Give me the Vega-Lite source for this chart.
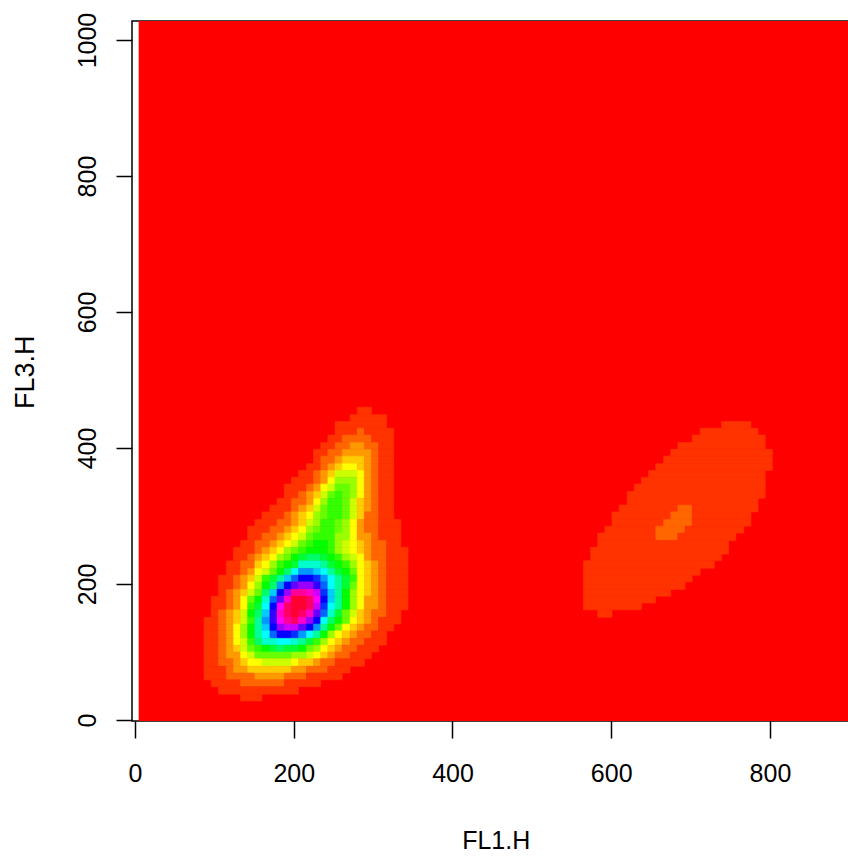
{
"$schema":"https://vega.github.io/schema/vega-lite/v6.json",
"autosize":{"type":"none"},
"padding":{"left":132,"top":21,"right":0,"bottom":135},
"width":716,"height":700,
"background":"white",
"view":{"stroke":"black","strokeWidth":1.5,"fill":"white"},
"data":{"values":[
{"x":5,"x2":900,"y":-1.5,"y2":1028,"v":0},
{"x":280,"x2":298,"y":449,"y2":460,"v":1},
{"x":271,"x2":317,"y":439,"y2":449,"v":1},
{"x":252,"x2":317,"y":429,"y2":439,"v":1},
{"x":252,"x2":280,"y":419,"y2":429,"v":1},{"x":280,"x2":289,"y":419,"y2":429,"v":2},{"x":289,"x2":326,"y":419,"y2":429,"v":1},
{"x":243,"x2":261,"y":408,"y2":419,"v":1},{"x":261,"x2":298,"y":408,"y2":419,"v":2},{"x":298,"x2":326,"y":408,"y2":419,"v":1},
{"x":234,"x2":252,"y":398,"y2":408,"v":1},{"x":252,"x2":271,"y":398,"y2":408,"v":2},{"x":271,"x2":289,"y":398,"y2":408,"v":3},{"x":289,"x2":307,"y":398,"y2":408,"v":2},{"x":307,"x2":326,"y":398,"y2":408,"v":1},
{"x":225,"x2":243,"y":388,"y2":398,"v":1},{"x":243,"x2":261,"y":388,"y2":398,"v":2},{"x":261,"x2":298,"y":388,"y2":398,"v":3},{"x":298,"x2":307,"y":388,"y2":398,"v":2},{"x":307,"x2":326,"y":388,"y2":398,"v":1},
{"x":225,"x2":234,"y":377,"y2":388,"v":1},{"x":234,"x2":252,"y":377,"y2":388,"v":2},{"x":252,"x2":261,"y":377,"y2":388,"v":3},{"x":261,"x2":289,"y":377,"y2":388,"v":4},{"x":289,"x2":298,"y":377,"y2":388,"v":3},{"x":298,"x2":307,"y":377,"y2":388,"v":2},{"x":307,"x2":326,"y":377,"y2":388,"v":1},
{"x":216,"x2":234,"y":367,"y2":377,"v":1},{"x":234,"x2":243,"y":367,"y2":377,"v":2},{"x":243,"x2":252,"y":367,"y2":377,"v":3},{"x":252,"x2":261,"y":367,"y2":377,"v":4},{"x":261,"x2":280,"y":367,"y2":377,"v":5},{"x":280,"x2":289,"y":367,"y2":377,"v":4},{"x":289,"x2":298,"y":367,"y2":377,"v":3},{"x":298,"x2":307,"y":367,"y2":377,"v":2},{"x":307,"x2":326,"y":367,"y2":377,"v":1},
{"x":206,"x2":225,"y":357,"y2":367,"v":1},{"x":225,"x2":234,"y":357,"y2":367,"v":2},{"x":234,"x2":243,"y":357,"y2":367,"v":3},{"x":243,"x2":252,"y":357,"y2":367,"v":4},{"x":252,"x2":280,"y":357,"y2":367,"v":6},{"x":280,"x2":289,"y":357,"y2":367,"v":5},{"x":289,"x2":298,"y":357,"y2":367,"v":3},{"x":298,"x2":307,"y":357,"y2":367,"v":2},{"x":307,"x2":326,"y":357,"y2":367,"v":1},
{"x":197,"x2":225,"y":347,"y2":357,"v":1},{"x":225,"x2":234,"y":347,"y2":357,"v":2},{"x":234,"x2":243,"y":347,"y2":357,"v":3},{"x":243,"x2":252,"y":347,"y2":357,"v":5},{"x":252,"x2":280,"y":347,"y2":357,"v":7},{"x":280,"x2":289,"y":347,"y2":357,"v":5},{"x":289,"x2":298,"y":347,"y2":357,"v":3},{"x":298,"x2":307,"y":347,"y2":357,"v":2},{"x":307,"x2":326,"y":347,"y2":357,"v":1},
{"x":188,"x2":216,"y":336,"y2":347,"v":1},{"x":216,"x2":225,"y":336,"y2":347,"v":2},{"x":225,"x2":234,"y":336,"y2":347,"v":3},{"x":234,"x2":243,"y":336,"y2":347,"v":5},{"x":243,"x2":252,"y":336,"y2":347,"v":6},{"x":252,"x2":271,"y":336,"y2":347,"v":8},{"x":271,"x2":280,"y":336,"y2":347,"v":7},{"x":280,"x2":289,"y":336,"y2":347,"v":5},{"x":289,"x2":298,"y":336,"y2":347,"v":3},{"x":298,"x2":307,"y":336,"y2":347,"v":2},{"x":307,"x2":326,"y":336,"y2":347,"v":1},
{"x":188,"x2":206,"y":326,"y2":336,"v":1},{"x":206,"x2":216,"y":326,"y2":336,"v":2},{"x":216,"x2":225,"y":326,"y2":336,"v":3},{"x":225,"x2":234,"y":326,"y2":336,"v":4},{"x":234,"x2":243,"y":326,"y2":336,"v":6},{"x":243,"x2":252,"y":326,"y2":336,"v":8},{"x":252,"x2":261,"y":326,"y2":336,"v":9},{"x":261,"x2":271,"y":326,"y2":336,"v":8},{"x":271,"x2":280,"y":326,"y2":336,"v":7},{"x":280,"x2":289,"y":326,"y2":336,"v":5},{"x":289,"x2":298,"y":326,"y2":336,"v":3},{"x":298,"x2":307,"y":326,"y2":336,"v":2},{"x":307,"x2":326,"y":326,"y2":336,"v":1},
{"x":179,"x2":197,"y":316,"y2":326,"v":1},{"x":197,"x2":216,"y":316,"y2":326,"v":2},{"x":216,"x2":225,"y":316,"y2":326,"v":3},{"x":225,"x2":234,"y":316,"y2":326,"v":5},{"x":234,"x2":243,"y":316,"y2":326,"v":7},{"x":243,"x2":261,"y":316,"y2":326,"v":9},{"x":261,"x2":271,"y":316,"y2":326,"v":8},{"x":271,"x2":280,"y":316,"y2":326,"v":6},{"x":280,"x2":289,"y":316,"y2":326,"v":4},{"x":289,"x2":298,"y":316,"y2":326,"v":3},{"x":298,"x2":307,"y":316,"y2":326,"v":2},{"x":307,"x2":326,"y":316,"y2":326,"v":1},
{"x":170,"x2":197,"y":306,"y2":316,"v":1},{"x":197,"x2":206,"y":306,"y2":316,"v":2},{"x":206,"x2":216,"y":306,"y2":316,"v":3},{"x":216,"x2":225,"y":306,"y2":316,"v":4},{"x":225,"x2":234,"y":306,"y2":316,"v":6},{"x":234,"x2":243,"y":306,"y2":316,"v":8},{"x":243,"x2":261,"y":306,"y2":316,"v":9},{"x":261,"x2":271,"y":306,"y2":316,"v":8},{"x":271,"x2":280,"y":306,"y2":316,"v":6},{"x":280,"x2":289,"y":306,"y2":316,"v":4},{"x":289,"x2":298,"y":306,"y2":316,"v":3},{"x":298,"x2":307,"y":306,"y2":316,"v":2},{"x":307,"x2":326,"y":306,"y2":316,"v":1},
{"x":160,"x2":188,"y":295,"y2":306,"v":1},{"x":188,"x2":197,"y":295,"y2":306,"v":2},{"x":197,"x2":206,"y":295,"y2":306,"v":3},{"x":206,"x2":216,"y":295,"y2":306,"v":4},{"x":216,"x2":225,"y":295,"y2":306,"v":5},{"x":225,"x2":234,"y":295,"y2":306,"v":7},{"x":234,"x2":243,"y":295,"y2":306,"v":8},{"x":243,"x2":261,"y":295,"y2":306,"v":9},{"x":261,"x2":271,"y":295,"y2":306,"v":8},{"x":271,"x2":280,"y":295,"y2":306,"v":6},{"x":280,"x2":289,"y":295,"y2":306,"v":4},{"x":289,"x2":307,"y":295,"y2":306,"v":2},{"x":307,"x2":326,"y":295,"y2":306,"v":1},
{"x":151,"x2":179,"y":285,"y2":295,"v":1},{"x":179,"x2":197,"y":285,"y2":295,"v":2},{"x":197,"x2":206,"y":285,"y2":295,"v":3},{"x":206,"x2":216,"y":285,"y2":295,"v":4},{"x":216,"x2":225,"y":285,"y2":295,"v":6},{"x":225,"x2":234,"y":285,"y2":295,"v":7},{"x":234,"x2":252,"y":285,"y2":295,"v":9},{"x":252,"x2":261,"y":285,"y2":295,"v":8},{"x":261,"x2":271,"y":285,"y2":295,"v":7},{"x":271,"x2":280,"y":285,"y2":295,"v":5},{"x":280,"x2":289,"y":285,"y2":295,"v":3},{"x":289,"x2":307,"y":285,"y2":295,"v":2},{"x":307,"x2":335,"y":285,"y2":295,"v":1},
{"x":142,"x2":170,"y":275,"y2":285,"v":1},{"x":170,"x2":188,"y":275,"y2":285,"v":2},{"x":188,"x2":197,"y":275,"y2":285,"v":3},{"x":197,"x2":206,"y":275,"y2":285,"v":4},{"x":206,"x2":216,"y":275,"y2":285,"v":5},{"x":216,"x2":225,"y":275,"y2":285,"v":7},{"x":225,"x2":234,"y":275,"y2":285,"v":8},{"x":234,"x2":252,"y":275,"y2":285,"v":9},{"x":252,"x2":261,"y":275,"y2":285,"v":8},{"x":261,"x2":271,"y":275,"y2":285,"v":7},{"x":271,"x2":280,"y":275,"y2":285,"v":5},{"x":280,"x2":289,"y":275,"y2":285,"v":3},{"x":289,"x2":307,"y":275,"y2":285,"v":2},{"x":307,"x2":335,"y":275,"y2":285,"v":1},
{"x":142,"x2":160,"y":264,"y2":275,"v":1},{"x":160,"x2":179,"y":264,"y2":275,"v":2},{"x":179,"x2":188,"y":264,"y2":275,"v":3},{"x":188,"x2":197,"y":264,"y2":275,"v":4},{"x":197,"x2":206,"y":264,"y2":275,"v":5},{"x":206,"x2":216,"y":264,"y2":275,"v":6},{"x":216,"x2":225,"y":264,"y2":275,"v":8},{"x":225,"x2":252,"y":264,"y2":275,"v":9},{"x":252,"x2":271,"y":264,"y2":275,"v":7},{"x":271,"x2":280,"y":264,"y2":275,"v":5},{"x":280,"x2":298,"y":264,"y2":275,"v":3},{"x":298,"x2":307,"y":264,"y2":275,"v":2},{"x":307,"x2":335,"y":264,"y2":275,"v":1},
{"x":133,"x2":151,"y":254,"y2":264,"v":1},{"x":151,"x2":170,"y":254,"y2":264,"v":2},{"x":170,"x2":179,"y":254,"y2":264,"v":3},{"x":179,"x2":188,"y":254,"y2":264,"v":4},{"x":188,"x2":197,"y":254,"y2":264,"v":5},{"x":197,"x2":206,"y":254,"y2":264,"v":6},{"x":206,"x2":216,"y":254,"y2":264,"v":8},{"x":216,"x2":225,"y":254,"y2":264,"v":9},{"x":225,"x2":243,"y":254,"y2":264,"v":10},{"x":243,"x2":252,"y":254,"y2":264,"v":9},{"x":252,"x2":261,"y":254,"y2":264,"v":7},{"x":261,"x2":271,"y":254,"y2":264,"v":6},{"x":271,"x2":280,"y":254,"y2":264,"v":5},{"x":280,"x2":289,"y":254,"y2":264,"v":4},{"x":289,"x2":298,"y":254,"y2":264,"v":3},{"x":298,"x2":317,"y":254,"y2":264,"v":2},{"x":317,"x2":335,"y":254,"y2":264,"v":1},
{"x":124,"x2":151,"y":244,"y2":254,"v":1},{"x":151,"x2":160,"y":244,"y2":254,"v":2},{"x":160,"x2":170,"y":244,"y2":254,"v":3},{"x":170,"x2":179,"y":244,"y2":254,"v":4},{"x":179,"x2":188,"y":244,"y2":254,"v":5},{"x":188,"x2":197,"y":244,"y2":254,"v":7},{"x":197,"x2":206,"y":244,"y2":254,"v":8},{"x":206,"x2":216,"y":244,"y2":254,"v":9},{"x":216,"x2":243,"y":244,"y2":254,"v":10},{"x":243,"x2":252,"y":244,"y2":254,"v":9},{"x":252,"x2":261,"y":244,"y2":254,"v":7},{"x":261,"x2":271,"y":244,"y2":254,"v":6},{"x":271,"x2":280,"y":244,"y2":254,"v":5},{"x":280,"x2":289,"y":244,"y2":254,"v":4},{"x":289,"x2":298,"y":244,"y2":254,"v":3},{"x":298,"x2":317,"y":244,"y2":254,"v":2},{"x":317,"x2":344,"y":244,"y2":254,"v":1},
{"x":124,"x2":142,"y":234,"y2":244,"v":1},{"x":142,"x2":151,"y":234,"y2":244,"v":2},{"x":151,"x2":160,"y":234,"y2":244,"v":3},{"x":160,"x2":170,"y":234,"y2":244,"v":4},{"x":170,"x2":179,"y":234,"y2":244,"v":5},{"x":179,"x2":188,"y":234,"y2":244,"v":7},{"x":188,"x2":197,"y":234,"y2":244,"v":8},{"x":197,"x2":206,"y":234,"y2":244,"v":10},{"x":206,"x2":216,"y":234,"y2":244,"v":11},{"x":216,"x2":234,"y":234,"y2":244,"v":12},{"x":234,"x2":243,"y":234,"y2":244,"v":11},{"x":243,"x2":252,"y":234,"y2":244,"v":10},{"x":252,"x2":261,"y":234,"y2":244,"v":9},{"x":261,"x2":271,"y":234,"y2":244,"v":7},{"x":271,"x2":280,"y":234,"y2":244,"v":6},{"x":280,"x2":289,"y":234,"y2":244,"v":5},{"x":289,"x2":298,"y":234,"y2":244,"v":3},{"x":298,"x2":317,"y":234,"y2":244,"v":2},{"x":317,"x2":344,"y":234,"y2":244,"v":1},
{"x":115,"x2":133,"y":223,"y2":234,"v":1},{"x":133,"x2":151,"y":223,"y2":234,"v":2},{"x":151,"x2":160,"y":223,"y2":234,"v":4},{"x":160,"x2":170,"y":223,"y2":234,"v":5},{"x":170,"x2":179,"y":223,"y2":234,"v":7},{"x":179,"x2":188,"y":223,"y2":234,"v":9},{"x":188,"x2":197,"y":223,"y2":234,"v":10},{"x":197,"x2":206,"y":223,"y2":234,"v":11},{"x":206,"x2":234,"y":223,"y2":234,"v":14},{"x":234,"x2":243,"y":223,"y2":234,"v":13},{"x":243,"x2":252,"y":223,"y2":234,"v":11},{"x":252,"x2":261,"y":223,"y2":234,"v":10},{"x":261,"x2":271,"y":223,"y2":234,"v":9},{"x":271,"x2":280,"y":223,"y2":234,"v":7},{"x":280,"x2":289,"y":223,"y2":234,"v":5},{"x":289,"x2":298,"y":223,"y2":234,"v":4},{"x":298,"x2":307,"y":223,"y2":234,"v":3},{"x":307,"x2":317,"y":223,"y2":234,"v":2},{"x":317,"x2":344,"y":223,"y2":234,"v":1},
{"x":115,"x2":133,"y":213,"y2":223,"v":1},{"x":133,"x2":142,"y":213,"y2":223,"v":2},{"x":142,"x2":151,"y":213,"y2":223,"v":3},{"x":151,"x2":160,"y":213,"y2":223,"v":5},{"x":160,"x2":170,"y":213,"y2":223,"v":6},{"x":170,"x2":179,"y":213,"y2":223,"v":8},{"x":179,"x2":188,"y":213,"y2":223,"v":10},{"x":188,"x2":197,"y":213,"y2":223,"v":12},{"x":197,"x2":206,"y":213,"y2":223,"v":15},{"x":206,"x2":225,"y":213,"y2":223,"v":17},{"x":225,"x2":234,"y":213,"y2":223,"v":16},{"x":234,"x2":243,"y":213,"y2":223,"v":15},{"x":243,"x2":252,"y":213,"y2":223,"v":13},{"x":252,"x2":261,"y":213,"y2":223,"v":11},{"x":261,"x2":271,"y":213,"y2":223,"v":10},{"x":271,"x2":280,"y":213,"y2":223,"v":8},{"x":280,"x2":289,"y":213,"y2":223,"v":5},{"x":289,"x2":298,"y":213,"y2":223,"v":4},{"x":298,"x2":307,"y":213,"y2":223,"v":3},{"x":307,"x2":317,"y":213,"y2":223,"v":2},{"x":317,"x2":344,"y":213,"y2":223,"v":1},
{"x":105,"x2":124,"y":203,"y2":213,"v":1},{"x":124,"x2":133,"y":203,"y2":213,"v":2},{"x":133,"x2":142,"y":203,"y2":213,"v":3},{"x":142,"x2":151,"y":203,"y2":213,"v":4},{"x":151,"x2":160,"y":203,"y2":213,"v":6},{"x":160,"x2":170,"y":203,"y2":213,"v":9},{"x":170,"x2":179,"y":203,"y2":213,"v":11},{"x":179,"x2":188,"y":203,"y2":213,"v":13},{"x":188,"x2":197,"y":203,"y2":213,"v":16},{"x":197,"x2":206,"y":203,"y2":213,"v":18},{"x":206,"x2":225,"y":203,"y2":213,"v":20},{"x":225,"x2":234,"y":203,"y2":213,"v":19},{"x":234,"x2":243,"y":203,"y2":213,"v":17},{"x":243,"x2":252,"y":203,"y2":213,"v":15},{"x":252,"x2":261,"y":203,"y2":213,"v":13},{"x":261,"x2":271,"y":203,"y2":213,"v":11},{"x":271,"x2":280,"y":203,"y2":213,"v":9},{"x":280,"x2":289,"y":203,"y2":213,"v":5},{"x":289,"x2":298,"y":203,"y2":213,"v":4},{"x":298,"x2":307,"y":203,"y2":213,"v":3},{"x":307,"x2":317,"y":203,"y2":213,"v":2},{"x":317,"x2":344,"y":203,"y2":213,"v":1},
{"x":105,"x2":124,"y":192,"y2":203,"v":1},{"x":124,"x2":133,"y":192,"y2":203,"v":2},{"x":133,"x2":142,"y":192,"y2":203,"v":3},{"x":142,"x2":151,"y":192,"y2":203,"v":5},{"x":151,"x2":160,"y":192,"y2":203,"v":7},{"x":160,"x2":170,"y":192,"y2":203,"v":10},{"x":170,"x2":179,"y":192,"y2":203,"v":12},{"x":179,"x2":188,"y":192,"y2":203,"v":17},{"x":188,"x2":197,"y":192,"y2":203,"v":20},{"x":197,"x2":206,"y":192,"y2":203,"v":22},{"x":206,"x2":225,"y":192,"y2":203,"v":23},{"x":225,"x2":234,"y":192,"y2":203,"v":21},{"x":234,"x2":243,"y":192,"y2":203,"v":18},{"x":243,"x2":252,"y":192,"y2":203,"v":15},{"x":252,"x2":261,"y":192,"y2":203,"v":13},{"x":261,"x2":271,"y":192,"y2":203,"v":11},{"x":271,"x2":280,"y":192,"y2":203,"v":8},{"x":280,"x2":289,"y":192,"y2":203,"v":5},{"x":289,"x2":298,"y":192,"y2":203,"v":4},{"x":298,"x2":307,"y":192,"y2":203,"v":3},{"x":307,"x2":317,"y":192,"y2":203,"v":2},{"x":317,"x2":344,"y":192,"y2":203,"v":1},
{"x":105,"x2":115,"y":182,"y2":192,"v":1},{"x":115,"x2":124,"y":182,"y2":192,"v":2},{"x":124,"x2":133,"y":182,"y2":192,"v":3},{"x":133,"x2":142,"y":182,"y2":192,"v":4},{"x":142,"x2":151,"y":182,"y2":192,"v":6},{"x":151,"x2":160,"y":182,"y2":192,"v":8},{"x":160,"x2":170,"y":182,"y2":192,"v":12},{"x":170,"x2":179,"y":182,"y2":192,"v":16},{"x":179,"x2":188,"y":182,"y2":192,"v":20},{"x":188,"x2":197,"y":182,"y2":192,"v":23},{"x":197,"x2":216,"y":182,"y2":192,"v":27},{"x":216,"x2":225,"y":182,"y2":192,"v":26},{"x":225,"x2":234,"y":182,"y2":192,"v":24},{"x":234,"x2":243,"y":182,"y2":192,"v":19},{"x":243,"x2":252,"y":182,"y2":192,"v":16},{"x":252,"x2":261,"y":182,"y2":192,"v":13},{"x":261,"x2":271,"y":182,"y2":192,"v":10},{"x":271,"x2":280,"y":182,"y2":192,"v":7},{"x":280,"x2":289,"y":182,"y2":192,"v":5},{"x":289,"x2":298,"y":182,"y2":192,"v":4},{"x":298,"x2":307,"y":182,"y2":192,"v":3},{"x":307,"x2":317,"y":182,"y2":192,"v":2},{"x":317,"x2":344,"y":182,"y2":192,"v":1},
{"x":96,"x2":115,"y":172,"y2":182,"v":1},{"x":115,"x2":124,"y":172,"y2":182,"v":2},{"x":124,"x2":133,"y":172,"y2":182,"v":3},{"x":133,"x2":142,"y":172,"y2":182,"v":5},{"x":142,"x2":151,"y":172,"y2":182,"v":8},{"x":151,"x2":160,"y":172,"y2":182,"v":10},{"x":160,"x2":170,"y":172,"y2":182,"v":14},{"x":170,"x2":179,"y":172,"y2":182,"v":18},{"x":179,"x2":188,"y":172,"y2":182,"v":22},{"x":188,"x2":197,"y":172,"y2":182,"v":26},{"x":197,"x2":216,"y":172,"y2":182,"v":29},{"x":216,"x2":225,"y":172,"y2":182,"v":28},{"x":225,"x2":234,"y":172,"y2":182,"v":25},{"x":234,"x2":243,"y":172,"y2":182,"v":20},{"x":243,"x2":252,"y":172,"y2":182,"v":16},{"x":252,"x2":261,"y":172,"y2":182,"v":13},{"x":261,"x2":271,"y":172,"y2":182,"v":10},{"x":271,"x2":280,"y":172,"y2":182,"v":7},{"x":280,"x2":289,"y":172,"y2":182,"v":5},{"x":289,"x2":307,"y":172,"y2":182,"v":3},{"x":307,"x2":317,"y":172,"y2":182,"v":2},{"x":317,"x2":344,"y":172,"y2":182,"v":1},
{"x":96,"x2":115,"y":162,"y2":172,"v":1},{"x":115,"x2":124,"y":162,"y2":172,"v":2},{"x":124,"x2":133,"y":162,"y2":172,"v":3},{"x":133,"x2":142,"y":162,"y2":172,"v":5},{"x":142,"x2":151,"y":162,"y2":172,"v":9},{"x":151,"x2":160,"y":162,"y2":172,"v":11},{"x":160,"x2":170,"y":162,"y2":172,"v":15},{"x":170,"x2":179,"y":162,"y2":172,"v":20},{"x":179,"x2":188,"y":162,"y2":172,"v":25},{"x":188,"x2":197,"y":162,"y2":172,"v":28},{"x":197,"x2":216,"y":162,"y2":172,"v":29},{"x":216,"x2":225,"y":162,"y2":172,"v":28},{"x":225,"x2":234,"y":162,"y2":172,"v":24},{"x":234,"x2":243,"y":162,"y2":172,"v":19},{"x":243,"x2":252,"y":162,"y2":172,"v":15},{"x":252,"x2":261,"y":162,"y2":172,"v":13},{"x":261,"x2":271,"y":162,"y2":172,"v":10},{"x":271,"x2":280,"y":162,"y2":172,"v":7},{"x":280,"x2":289,"y":162,"y2":172,"v":5},{"x":289,"x2":307,"y":162,"y2":172,"v":3},{"x":307,"x2":317,"y":162,"y2":172,"v":2},{"x":317,"x2":344,"y":162,"y2":172,"v":1},
{"x":96,"x2":105,"y":151,"y2":162,"v":1},{"x":105,"x2":115,"y":151,"y2":162,"v":2},{"x":115,"x2":124,"y":151,"y2":162,"v":3},{"x":124,"x2":133,"y":151,"y2":162,"v":4},{"x":133,"x2":142,"y":151,"y2":162,"v":6},{"x":142,"x2":151,"y":151,"y2":162,"v":10},{"x":151,"x2":160,"y":151,"y2":162,"v":12},{"x":160,"x2":170,"y":151,"y2":162,"v":16},{"x":170,"x2":179,"y":151,"y2":162,"v":21},{"x":179,"x2":188,"y":151,"y2":162,"v":26},{"x":188,"x2":197,"y":151,"y2":162,"v":28},{"x":197,"x2":206,"y":151,"y2":162,"v":29},{"x":206,"x2":216,"y":151,"y2":162,"v":28},{"x":216,"x2":225,"y":151,"y2":162,"v":26},{"x":225,"x2":234,"y":151,"y2":162,"v":22},{"x":234,"x2":243,"y":151,"y2":162,"v":18},{"x":243,"x2":252,"y":151,"y2":162,"v":14},{"x":252,"x2":261,"y":151,"y2":162,"v":11},{"x":261,"x2":271,"y":151,"y2":162,"v":8},{"x":271,"x2":280,"y":151,"y2":162,"v":6},{"x":280,"x2":289,"y":151,"y2":162,"v":4},{"x":289,"x2":298,"y":151,"y2":162,"v":3},{"x":298,"x2":317,"y":151,"y2":162,"v":2},{"x":317,"x2":335,"y":151,"y2":162,"v":1},
{"x":87,"x2":105,"y":141,"y2":151,"v":1},{"x":105,"x2":115,"y":141,"y2":151,"v":2},{"x":115,"x2":124,"y":141,"y2":151,"v":3},{"x":124,"x2":133,"y":141,"y2":151,"v":4},{"x":133,"x2":142,"y":141,"y2":151,"v":6},{"x":142,"x2":151,"y":141,"y2":151,"v":9},{"x":151,"x2":160,"y":141,"y2":151,"v":13},{"x":160,"x2":170,"y":141,"y2":151,"v":17},{"x":170,"x2":179,"y":141,"y2":151,"v":21},{"x":179,"x2":188,"y":141,"y2":151,"v":25},{"x":188,"x2":197,"y":141,"y2":151,"v":27},{"x":197,"x2":206,"y":141,"y2":151,"v":28},{"x":206,"x2":216,"y":141,"y2":151,"v":26},{"x":216,"x2":225,"y":141,"y2":151,"v":23},{"x":225,"x2":234,"y":141,"y2":151,"v":20},{"x":234,"x2":243,"y":141,"y2":151,"v":15},{"x":243,"x2":252,"y":141,"y2":151,"v":12},{"x":252,"x2":261,"y":141,"y2":151,"v":10},{"x":261,"x2":271,"y":141,"y2":151,"v":8},{"x":271,"x2":280,"y":141,"y2":151,"v":5},{"x":280,"x2":289,"y":141,"y2":151,"v":4},{"x":289,"x2":298,"y":141,"y2":151,"v":3},{"x":298,"x2":307,"y":141,"y2":151,"v":2},{"x":307,"x2":335,"y":141,"y2":151,"v":1},
{"x":87,"x2":105,"y":131,"y2":141,"v":1},{"x":105,"x2":115,"y":131,"y2":141,"v":2},{"x":115,"x2":124,"y":131,"y2":141,"v":3},{"x":124,"x2":133,"y":131,"y2":141,"v":5},{"x":133,"x2":142,"y":131,"y2":141,"v":7},{"x":142,"x2":151,"y":131,"y2":141,"v":10},{"x":151,"x2":160,"y":131,"y2":141,"v":13},{"x":160,"x2":170,"y":131,"y2":141,"v":16},{"x":170,"x2":179,"y":131,"y2":141,"v":20},{"x":179,"x2":188,"y":131,"y2":141,"v":23},{"x":188,"x2":206,"y":131,"y2":141,"v":24},{"x":206,"x2":216,"y":131,"y2":141,"v":22},{"x":216,"x2":225,"y":131,"y2":141,"v":20},{"x":225,"x2":234,"y":131,"y2":141,"v":17},{"x":234,"x2":243,"y":131,"y2":141,"v":13},{"x":243,"x2":252,"y":131,"y2":141,"v":10},{"x":252,"x2":261,"y":131,"y2":141,"v":8},{"x":261,"x2":271,"y":131,"y2":141,"v":5},{"x":271,"x2":280,"y":131,"y2":141,"v":4},{"x":280,"x2":289,"y":131,"y2":141,"v":3},{"x":289,"x2":307,"y":131,"y2":141,"v":2},{"x":307,"x2":326,"y":131,"y2":141,"v":1},
{"x":87,"x2":105,"y":120,"y2":131,"v":1},{"x":105,"x2":115,"y":120,"y2":131,"v":2},{"x":115,"x2":124,"y":120,"y2":131,"v":3},{"x":124,"x2":133,"y":120,"y2":131,"v":5},{"x":133,"x2":142,"y":120,"y2":131,"v":7},{"x":142,"x2":151,"y":120,"y2":131,"v":10},{"x":151,"x2":160,"y":120,"y2":131,"v":13},{"x":160,"x2":170,"y":120,"y2":131,"v":15},{"x":170,"x2":179,"y":120,"y2":131,"v":18},{"x":179,"x2":197,"y":120,"y2":131,"v":20},{"x":197,"x2":206,"y":120,"y2":131,"v":19},{"x":206,"x2":216,"y":120,"y2":131,"v":17},{"x":216,"x2":225,"y":120,"y2":131,"v":15},{"x":225,"x2":234,"y":120,"y2":131,"v":13},{"x":234,"x2":243,"y":120,"y2":131,"v":10},{"x":243,"x2":252,"y":120,"y2":131,"v":7},{"x":252,"x2":261,"y":120,"y2":131,"v":5},{"x":261,"x2":271,"y":120,"y2":131,"v":4},{"x":271,"x2":280,"y":120,"y2":131,"v":3},{"x":280,"x2":298,"y":120,"y2":131,"v":2},{"x":298,"x2":317,"y":120,"y2":131,"v":1},
{"x":87,"x2":105,"y":110,"y2":120,"v":1},{"x":105,"x2":115,"y":110,"y2":120,"v":2},{"x":115,"x2":124,"y":110,"y2":120,"v":3},{"x":124,"x2":133,"y":110,"y2":120,"v":5},{"x":133,"x2":142,"y":110,"y2":120,"v":6},{"x":142,"x2":151,"y":110,"y2":120,"v":9},{"x":151,"x2":160,"y":110,"y2":120,"v":12},{"x":160,"x2":179,"y":110,"y2":120,"v":14},{"x":179,"x2":197,"y":110,"y2":120,"v":15},{"x":197,"x2":206,"y":110,"y2":120,"v":14},{"x":206,"x2":216,"y":110,"y2":120,"v":13},{"x":216,"x2":225,"y":110,"y2":120,"v":11},{"x":225,"x2":234,"y":110,"y2":120,"v":9},{"x":234,"x2":243,"y":110,"y2":120,"v":7},{"x":243,"x2":252,"y":110,"y2":120,"v":5},{"x":252,"x2":261,"y":110,"y2":120,"v":4},{"x":261,"x2":271,"y":110,"y2":120,"v":3},{"x":271,"x2":289,"y":110,"y2":120,"v":2},{"x":289,"x2":317,"y":110,"y2":120,"v":1},
{"x":87,"x2":105,"y":100,"y2":110,"v":1},{"x":105,"x2":115,"y":100,"y2":110,"v":2},{"x":115,"x2":124,"y":100,"y2":110,"v":3},{"x":124,"x2":133,"y":100,"y2":110,"v":4},{"x":133,"x2":142,"y":100,"y2":110,"v":6},{"x":142,"x2":151,"y":100,"y2":110,"v":8},{"x":151,"x2":160,"y":100,"y2":110,"v":9},{"x":160,"x2":170,"y":100,"y2":110,"v":10},{"x":170,"x2":179,"y":100,"y2":110,"v":11},{"x":179,"x2":188,"y":100,"y2":110,"v":12},{"x":188,"x2":206,"y":100,"y2":110,"v":11},{"x":206,"x2":216,"y":100,"y2":110,"v":10},{"x":216,"x2":225,"y":100,"y2":110,"v":8},{"x":225,"x2":234,"y":100,"y2":110,"v":7},{"x":234,"x2":243,"y":100,"y2":110,"v":5},{"x":243,"x2":252,"y":100,"y2":110,"v":4},{"x":252,"x2":261,"y":100,"y2":110,"v":3},{"x":261,"x2":280,"y":100,"y2":110,"v":2},{"x":280,"x2":307,"y":100,"y2":110,"v":1},
{"x":87,"x2":105,"y":90,"y2":100,"v":1},{"x":105,"x2":115,"y":90,"y2":100,"v":2},{"x":115,"x2":133,"y":90,"y2":100,"v":3},{"x":133,"x2":142,"y":90,"y2":100,"v":5},{"x":142,"x2":151,"y":90,"y2":100,"v":6},{"x":151,"x2":197,"y":90,"y2":100,"v":8},{"x":197,"x2":216,"y":90,"y2":100,"v":7},{"x":216,"x2":225,"y":90,"y2":100,"v":6},{"x":225,"x2":234,"y":90,"y2":100,"v":5},{"x":234,"x2":243,"y":90,"y2":100,"v":4},{"x":243,"x2":252,"y":90,"y2":100,"v":3},{"x":252,"x2":271,"y":90,"y2":100,"v":2},{"x":271,"x2":298,"y":90,"y2":100,"v":1},
{"x":87,"x2":105,"y":79,"y2":90,"v":1},{"x":105,"x2":124,"y":79,"y2":90,"v":2},{"x":124,"x2":133,"y":79,"y2":90,"v":3},{"x":133,"x2":142,"y":79,"y2":90,"v":4},{"x":142,"x2":160,"y":79,"y2":90,"v":5},{"x":160,"x2":197,"y":79,"y2":90,"v":6},{"x":197,"x2":206,"y":79,"y2":90,"v":5},{"x":206,"x2":225,"y":79,"y2":90,"v":4},{"x":225,"x2":234,"y":79,"y2":90,"v":3},{"x":234,"x2":252,"y":79,"y2":90,"v":2},{"x":252,"x2":289,"y":79,"y2":90,"v":1},
{"x":87,"x2":115,"y":69,"y2":79,"v":1},{"x":115,"x2":124,"y":69,"y2":79,"v":2},{"x":124,"x2":142,"y":69,"y2":79,"v":3},{"x":142,"x2":197,"y":69,"y2":79,"v":4},{"x":197,"x2":216,"y":69,"y2":79,"v":3},{"x":216,"x2":243,"y":69,"y2":79,"v":2},{"x":243,"x2":271,"y":69,"y2":79,"v":1},
{"x":87,"x2":115,"y":59,"y2":69,"v":1},{"x":115,"x2":151,"y":59,"y2":69,"v":2},{"x":151,"x2":188,"y":59,"y2":69,"v":3},{"x":188,"x2":216,"y":59,"y2":69,"v":2},{"x":216,"x2":261,"y":59,"y2":69,"v":1},
{"x":96,"x2":133,"y":49,"y2":59,"v":1},{"x":133,"x2":188,"y":49,"y2":59,"v":2},{"x":188,"x2":234,"y":49,"y2":59,"v":1},
{"x":105,"x2":206,"y":38,"y2":49,"v":1},
{"x":133,"x2":160,"y":28,"y2":38,"v":1},
{"x":739,"x2":776,"y":429,"y2":439,"v":1},
{"x":712,"x2":785,"y":419,"y2":429,"v":1},
{"x":702,"x2":794,"y":408,"y2":419,"v":1},
{"x":684,"x2":794,"y":398,"y2":408,"v":1},
{"x":675,"x2":803,"y":388,"y2":398,"v":1},
{"x":666,"x2":803,"y":377,"y2":388,"v":1},
{"x":656,"x2":803,"y":367,"y2":377,"v":1},
{"x":647,"x2":794,"y":357,"y2":367,"v":1},
{"x":638,"x2":794,"y":347,"y2":357,"v":1},
{"x":629,"x2":794,"y":336,"y2":347,"v":1},
{"x":620,"x2":794,"y":326,"y2":336,"v":1},
{"x":620,"x2":785,"y":316,"y2":326,"v":1},
{"x":610,"x2":684,"y":306,"y2":316,"v":1},{"x":684,"x2":702,"y":306,"y2":316,"v":2},{"x":702,"x2":785,"y":306,"y2":316,"v":1},
{"x":601,"x2":675,"y":295,"y2":306,"v":1},{"x":675,"x2":702,"y":295,"y2":306,"v":2},{"x":702,"x2":776,"y":295,"y2":306,"v":1},
{"x":601,"x2":666,"y":285,"y2":295,"v":1},{"x":666,"x2":702,"y":285,"y2":295,"v":2},{"x":702,"x2":776,"y":285,"y2":295,"v":1},
{"x":592,"x2":656,"y":275,"y2":285,"v":1},{"x":656,"x2":693,"y":275,"y2":285,"v":2},{"x":693,"x2":767,"y":275,"y2":285,"v":1},
{"x":583,"x2":656,"y":264,"y2":275,"v":1},{"x":656,"x2":684,"y":264,"y2":275,"v":2},{"x":684,"x2":757,"y":264,"y2":275,"v":1},
{"x":583,"x2":748,"y":254,"y2":264,"v":1},
{"x":574,"x2":748,"y":244,"y2":254,"v":1},
{"x":574,"x2":739,"y":234,"y2":244,"v":1},
{"x":565,"x2":730,"y":223,"y2":234,"v":1},
{"x":565,"x2":712,"y":213,"y2":223,"v":1},
{"x":565,"x2":702,"y":203,"y2":213,"v":1},
{"x":565,"x2":693,"y":192,"y2":203,"v":1},
{"x":565,"x2":675,"y":182,"y2":192,"v":1},
{"x":565,"x2":656,"y":172,"y2":182,"v":1},
{"x":565,"x2":638,"y":162,"y2":172,"v":1},
{"x":583,"x2":601,"y":151,"y2":162,"v":1}
]},
"mark":{"type":"rect","clip":true,"strokeWidth":0.6},
"encoding":{
"x":{"field":"x","type":"quantitative","title":"FL1.H",
"scale":{"domain":[-3.78,898.3],"nice":false,"zero":false},
"axis":{"values":[0,200,400,600,800],"grid":false,"domain":false,"tickColor":"black","tickSize":17,"tickWidth":1.5,"labelFont":"Liberation Sans","labelFontSize":25,"labelColor":"black","labelPadding":23,"labelFlush":false,"format":"d","titleFont":"Liberation Sans","titleFontSize":25,"titleFontWeight":"normal","titleColor":"black","titleX":363.7,"titleY":107}},
"x2":{"field":"x2"},
"y":{"field":"y","type":"quantitative","title":"FL3.H",
"scale":{"domain":[-1.5,1028],"nice":false,"zero":false},
"axis":{"values":[0,200,400,600,800,1000],"grid":false,"domain":false,"tickColor":"black","tickSize":16,"tickWidth":1.5,"labelFont":"Liberation Sans","labelFontSize":25,"labelColor":"black","labelAngle":-90,"labelAlign":"center","labelBaseline":"bottom","labelPadding":16,"format":"d","titleFont":"Liberation Sans","titleFontSize":27,"titleFontWeight":"normal","titleColor":"black","titleAngle":-90,"titleX":-93,"titleY":350.7}},
"y2":{"field":"y2"},
"color":{"field":"v","type":"ordinal","legend":null,
"scale":{"domain":[0,1,2,3,4,5,6,7,8,9,10,11,12,13,14,15,16,17,18,19,20,21,22,23,24,25,26,27,28,29],
"range":["#ff0000","#ff3300","#ff6600","#ff9900","#ffcc00","#ffff00","#ccff00","#99ff00","#66ff00","#33ff00","#00ff00","#00ff33","#00ff66","#00ff99","#00ffcc","#00ffff","#00ccff","#0099ff","#0066ff","#0033ff","#0000ff","#3300ff","#6600ff","#9900ff","#cc00ff","#ff00ff","#ff00cc","#ff0099","#ff0066","#ff0033"]}},
"stroke":{"field":"v","type":"ordinal","legend":null,
"scale":{"domain":[0,1,2,3,4,5,6,7,8,9,10,11,12,13,14,15,16,17,18,19,20,21,22,23,24,25,26,27,28,29],
"range":["#ff0000","#ff3300","#ff6600","#ff9900","#ffcc00","#ffff00","#ccff00","#99ff00","#66ff00","#33ff00","#00ff00","#00ff33","#00ff66","#00ff99","#00ffcc","#00ffff","#00ccff","#0099ff","#0066ff","#0033ff","#0000ff","#3300ff","#6600ff","#9900ff","#cc00ff","#ff00ff","#ff00cc","#ff0099","#ff0066","#ff0033"]}}
}
}
